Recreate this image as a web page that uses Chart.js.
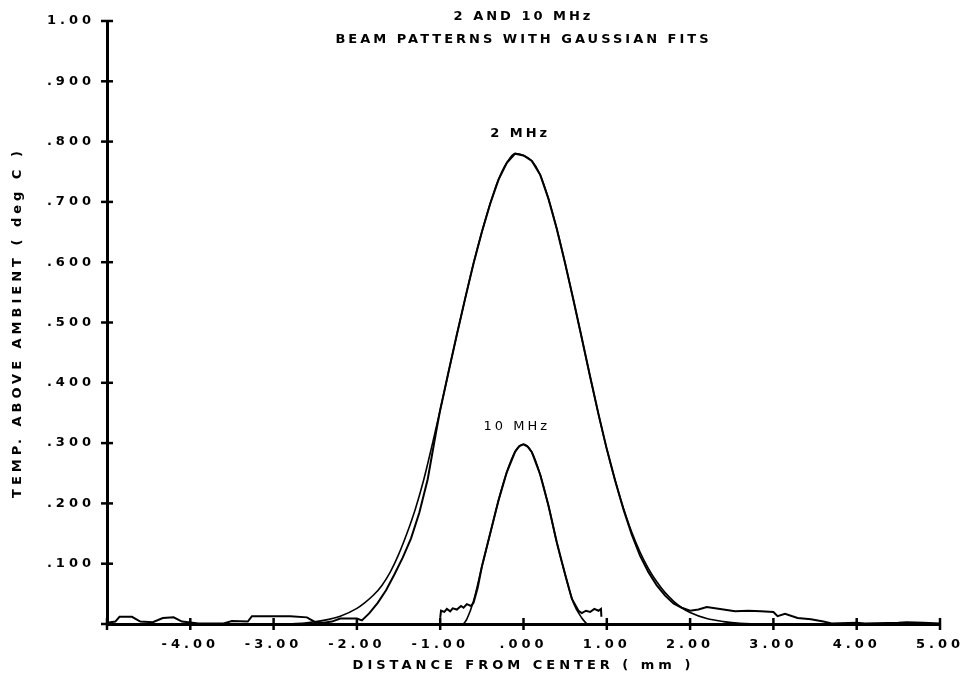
<!DOCTYPE html>
<html>
<head>
<meta charset="utf-8">
<title>2 and 10 MHz beam patterns</title>
<script src="https://cdn.jsdelivr.net/npm/chart.js@4.4.1/dist/chart.umd.min.js"></script>
<style>
    body { margin: 0; background: white; }
    #graph { width: 961px; height: 678px; }
</style>
</head>
<body>
<div id="graph"><canvas id="courbe" width="961" height="678"></canvas></div>
<script>
addEventListener("DOMContentLoaded", init);

const titre = ["2 AND 10 MHz", "BEAM PATTERNS WITH GAUSSIAN FITS"];
const titreX = "DISTANCE FROM CENTER ( mm )";
const titreY = "TEMP. ABOVE AMBIENT ( deg C )";
const xTickLabels = ["", "-4.00", "-3.00", "-2.00", "-1.00", ".000", "1.00", "2.00", "3.00", "4.00", "5.00"];
const yTickLabels = ["", ".100", ".200", ".300", ".400", ".500", ".600", ".700", ".800", ".900", "1.00"];

// 2 MHz : mesure (avec le bruit de fond) et fit gaussien
const x2mesure = [-5.0, -4.9, -4.85, -4.7, -4.6, -4.45, -4.33, -4.2, -4.1, -3.9, -3.6, -3.5, -3.31, -3.26, -3.0, -2.8, -2.6, -2.5, -2.4, -2.3, -2.2, -2.0, -1.94, -1.85, -1.75, -1.65, -1.55, -1.45, -1.35, -1.25, -1.15, -1.05, -1.0, -0.9, -0.8, -0.7, -0.6, -0.5, -0.4, -0.3, -0.2, -0.1, 0.0, 0.1, 0.2, 0.3, 0.4, 0.5, 0.6, 0.7, 0.8, 0.9, 1.0, 1.1, 1.2, 1.3, 1.4, 1.5, 1.6, 1.7, 1.8, 1.9, 2.0, 2.1, 2.2, 2.4, 2.54, 2.7, 2.85, 3.0, 3.05, 3.14, 3.29, 3.45, 3.6, 3.7, 4.0, 4.1, 4.5, 4.6, 4.8, 5.0];
const y2mesure = [0.002, 0.004, 0.012, 0.012, 0.004, 0.003, 0.01, 0.011, 0.004, 0.001, 0.001, 0.005, 0.004, 0.013, 0.013, 0.013, 0.011, 0.003, 0.002, 0.004, 0.009, 0.009, 0.006, 0.018, 0.035, 0.056, 0.082, 0.11, 0.142, 0.185, 0.24, 0.318, 0.355, 0.418, 0.48, 0.54, 0.598, 0.65, 0.697, 0.737, 0.765, 0.78, 0.777, 0.768, 0.745, 0.705, 0.655, 0.598, 0.537, 0.474, 0.41, 0.348, 0.29, 0.238, 0.19, 0.148, 0.113, 0.086, 0.064, 0.047, 0.034, 0.027, 0.022, 0.024, 0.028, 0.024, 0.021, 0.022, 0.021, 0.02, 0.013, 0.017, 0.01, 0.008, 0.004, 0.001, 0.002, 0.001, 0.002, 0.003, 0.002, 0.001];
const x2fit = [-2.8, -2.6, -2.4, -2.2, -2.0, -1.9, -1.8, -1.7, -1.6, -1.5, -1.4, -1.3, -1.2, -1.1, -1.0, -0.9, -0.8, -0.7, -0.6, -0.5, -0.4, -0.3, -0.2, -0.1, 0.0, 0.1, 0.2, 0.3, 0.4, 0.5, 0.6, 0.7, 0.8, 0.9, 1.0, 1.1, 1.2, 1.3, 1.4, 1.5, 1.6, 1.7, 1.8, 1.9, 2.0, 2.2, 2.4, 2.6, 2.8];
const y2fit = [0.0, 0.002, 0.006, 0.013, 0.026, 0.036, 0.048, 0.064, 0.086, 0.115, 0.15, 0.19, 0.238, 0.295, 0.355, 0.418, 0.48, 0.54, 0.598, 0.65, 0.697, 0.737, 0.765, 0.78, 0.777, 0.768, 0.745, 0.705, 0.655, 0.598, 0.537, 0.474, 0.41, 0.348, 0.29, 0.238, 0.192, 0.152, 0.119, 0.092, 0.07, 0.052, 0.038, 0.027, 0.019, 0.009, 0.004, 0.001, 0.0];

// 10 MHz
const x10mesure = [-1.0, -0.99, -0.95, -0.92, -0.88, -0.85, -0.8, -0.75, -0.72, -0.68, -0.63, -0.6, -0.55, -0.5, -0.4, -0.3, -0.2, -0.1, -0.05, 0.0, 0.05, 0.1, 0.2, 0.3, 0.4, 0.5, 0.58, 0.62, 0.66, 0.7, 0.75, 0.8, 0.85, 0.9, 0.93, 0.935];
const y10mesure = [0.01, 0.022, 0.02, 0.025, 0.021, 0.026, 0.024, 0.03, 0.027, 0.033, 0.03, 0.035, 0.06, 0.095, 0.15, 0.205, 0.252, 0.286, 0.295, 0.298, 0.294, 0.285, 0.248, 0.196, 0.135, 0.082, 0.042, 0.032, 0.022, 0.018, 0.022, 0.02, 0.025, 0.022, 0.025, 0.012];
const x10fit = [-0.72, -0.68, -0.6, -0.5, -0.4, -0.3, -0.2, -0.1, 0.0, 0.1, 0.2, 0.3, 0.4, 0.5, 0.6, 0.7, 0.76];
const y10fit = [0.0, 0.008, 0.038, 0.095, 0.15, 0.205, 0.252, 0.286, 0.298, 0.285, 0.248, 0.196, 0.135, 0.082, 0.035, 0.01, 0.0];

// étiquettes posées sur les courbes
const etiquettes = [
    { texte: "2 MHz", x: -0.04, y: 0.813, gras: true },
    { texte: "10 MHz", x: -0.08, y: 0.328, gras: false }
];

const police = "'DejaVu Sans', sans-serif";

function points(xs, ys) {
    return xs.map(function (x, i) {
        return { x: x, y: ys[i] };
    });
}

function trait(data, largeur, lisse) {
    const d = {
        data: data,
        borderColor: "black",
        borderWidth: largeur,
        pointRadius: 0,
        fill: false,
        tension: 0
    };
    if (lisse) d.cubicInterpolationMode = "monotone";
    return d;
}

// espacement des lettres façon traceur
const espacement = {
    id: "espacement",
    beforeLayout(chart) { chart.ctx.letterSpacing = "4px"; },
    beforeDraw(chart) { chart.ctx.letterSpacing = "4px"; }
};

// croix des graduations, titre et étiquettes
const decor = {
    id: "decor",
    afterDraw(chart) {
        const ctx = chart.ctx;
        const sx = chart.scales.x;
        const sy = chart.scales.y;
        const zone = chart.chartArea;
        ctx.save();
        ctx.strokeStyle = "black";
        ctx.lineWidth = 2.5;
        sx.ticks.forEach(function (t) {
            const px = sx.getPixelForValue(t.value);
            ctx.beginPath();
            ctx.moveTo(px, zone.bottom - 6);
            ctx.lineTo(px, zone.bottom + 6);
            ctx.stroke();
        });
        sy.ticks.forEach(function (t) {
            const py = sy.getPixelForValue(t.value);
            ctx.beginPath();
            ctx.moveTo(zone.left - 6, py);
            ctx.lineTo(zone.left + 6, py);
            ctx.stroke();
        });

        ctx.fillStyle = "black";
        ctx.textAlign = "center";
        ctx.textBaseline = "middle";
        ctx.letterSpacing = "3px";
        ctx.font = "bold 13px " + police;
        const cx = sx.getPixelForValue(0);
        ctx.fillText(titre[0], cx, 17);
        ctx.fillText(titre[1], cx, 40);

        etiquettes.forEach(function (e) {
            ctx.font = (e.gras ? "bold " : "") + "13px " + police;
            ctx.fillText(e.texte, sx.getPixelForValue(e.x), sy.getPixelForValue(e.y));
        });
        ctx.restore();
    }
};

function init() {
    const ctx = document.getElementById("courbe").getContext("2d");
    const fonte = { family: police, size: 13, weight: "bold" };

    new Chart(ctx, {
        type: "line",
        data: {
            datasets: [
                trait(points(x2fit, y2fit), 1.6, true),
                trait(points(x2mesure, y2mesure), 2, false),
                trait(points(x10fit, y10fit), 1.6, true),
                trait(points(x10mesure, y10mesure), 2, false)
            ]
        },
        options: {
            responsive: false,
            animation: false,
            layout: { padding: { top: 21, right: 21, left: 0, bottom: 0 } },
            plugins: {
                legend: { display: false },
                tooltip: { enabled: false }
            },
            scales: {
                x: {
                    type: "linear",
                    min: -5,
                    max: 5,
                    grid: { drawOnChartArea: false, drawTicks: false },
                    border: { color: "black", width: 3 },
                    ticks: {
                        stepSize: 1,
                        color: "black",
                        font: fonte,
                        padding: 13,
                        maxRotation: 0,
                        autoSkip: false,
                        callback: function (v, i) { return xTickLabels[i]; }
                    },
                    title: {
                        display: true,
                        text: titreX,
                        color: "black",
                        font: fonte,
                        padding: { top: 0, bottom: 5 }
                    },
                    afterFit: function (s) {
                        s.height = 54;
                        s.paddingLeft = 0;
                        s.paddingRight = 0;
                    }
                },
                y: {
                    min: 0,
                    max: 1,
                    grid: { drawOnChartArea: false, drawTicks: false },
                    border: { color: "black", width: 3 },
                    ticks: {
                        stepSize: 0.1,
                        color: "black",
                        font: fonte,
                        padding: 12,
                        autoSkip: false,
                        callback: function (v, i) { return yTickLabels[i]; }
                    },
                    title: {
                        display: true,
                        text: titreY,
                        color: "black",
                        font: fonte,
                        padding: { top: 10, bottom: 0 }
                    },
                    afterFit: function (s) {
                        s.width = 107;
                        s.paddingTop = 0;
                        s.paddingBottom = 0;
                    }
                }
            }
        },
        plugins: [espacement, decor]
    });
}
</script>
</body>
</html>
